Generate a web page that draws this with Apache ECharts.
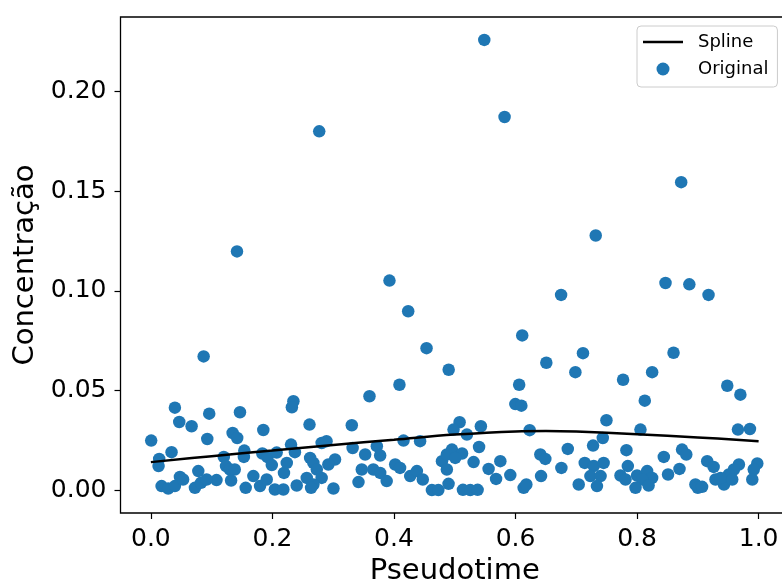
<!DOCTYPE html>
<html>
<head>
<meta charset="utf-8">
<script src="https://cdn.jsdelivr.net/npm/echarts@6/dist/echarts.min.js"></script>
<style>
  html, body { margin: 0; padding: 0; background: #fff; }
  #chart { width: 782px; height: 587px; }
</style>
</head>
<body>
<div id="chart"></div>
<script>
// Observed concentration per cell along pseudotime
const pseudotime = [
  0.277, 0.1417, 0.3926, 0.4234, 0.4536, 0.0868, 0.490, 0.409, 0.5486, 0.582,
  0.8726, 0.732, 0.675, 0.8468, 0.886, 0.9176, 0.611, 0.711, 0.6507, 0.860,
  0.6985, 0.8248, 0.777, 0.606, 0.9484, 0.970, 0.8127, 0.3597, 0.2345, 0.232,
  0.5997, 0.6096,
  0.0395, 0.096, 0.1466, 0.0467, 0.067, 0.185, 0.1345, 0.142, 0.0005, 0.0928,
  0.034, 0.0137, 0.0126, 0.120, 0.1537, 0.153, 0.1834, 0.192, 0.207, 0.199,
  0.1236, 0.130, 0.138, 0.078, 0.0478, 0.108, 0.132, 0.1686, 0.0176, 0.0285,
  0.0395, 0.053, 0.0725, 0.0824, 0.0917, 0.156, 0.1796, 0.1906, 0.204, 0.218,
  0.219, 0.2236,
  0.261, 0.3306, 0.2306, 0.237, 0.281, 0.289, 0.332, 0.3718, 0.4157, 0.443,
  0.262, 0.2674, 0.303, 0.292, 0.3526, 0.3773, 0.2565, 0.273, 0.281, 0.2674,
  0.240, 0.2636, 0.3004, 0.347, 0.3416, 0.366, 0.3773, 0.388, 0.402, 0.410,
  0.4267, 0.4377, 0.4474, 0.4624, 0.473, 0.479, 0.487,
  0.508, 0.498, 0.520, 0.543, 0.6233, 0.7496, 0.7436, 0.7276, 0.686, 0.540,
  0.4954, 0.487, 0.512, 0.5008, 0.6408, 0.649, 0.531, 0.575, 0.5557, 0.568,
  0.5914, 0.642, 0.6755, 0.7139, 0.7287, 0.745, 0.7232, 0.740, 0.734, 0.704,
  0.4898, 0.5135, 0.5255, 0.5376, 0.6134, 0.6178,
  0.966, 0.9857, 0.8056, 0.7825, 0.844, 0.874, 0.881, 0.9154, 0.926, 0.9978,
  0.992, 0.9896, 0.9676, 0.9594, 0.951, 0.7848, 0.7727, 0.781, 0.800, 0.8166,
  0.8248, 0.8084, 0.819, 0.7974, 0.851, 0.8698, 0.896, 0.900, 0.907, 0.929,
  0.943, 0.9374, 0.9566
];
const concentration = [
  0.180, 0.1198, 0.1052, 0.0898, 0.0713, 0.0672, 0.0605, 0.053, 0.2258, 0.1872,
  0.1545, 0.1278, 0.098, 0.104, 0.1033, 0.098, 0.0777, 0.0688, 0.064, 0.069,
  0.0593, 0.0593, 0.0555, 0.053, 0.0525, 0.048, 0.045, 0.0472, 0.0447, 0.0417,
  0.0433, 0.0425,
  0.0415, 0.0385, 0.0392, 0.0343, 0.0322, 0.0303, 0.0288, 0.0263, 0.025, 0.0258,
  0.0192, 0.0158, 0.0122, 0.0168, 0.020, 0.0168, 0.0185, 0.0167, 0.019, 0.0127,
  0.0122, 0.0105, 0.0105, 0.0097, 0.0068, 0.0052, 0.005, 0.0072, 0.0022, 0.001,
  0.0022, 0.0055, 0.0013, 0.0038, 0.0055, 0.0013, 0.0022, 0.0055, 0.0005, 0.0005,
  0.0088, 0.0138,
  0.033, 0.0327, 0.023, 0.0192, 0.0238, 0.0247, 0.0213, 0.0222, 0.025, 0.0247,
  0.0163, 0.0138, 0.0155, 0.013, 0.018, 0.0175, 0.0063, 0.0105, 0.0063, 0.003,
  0.0025, 0.0013, 0.001, 0.0105, 0.0042, 0.0105, 0.0088, 0.0047, 0.013, 0.0113,
  0.0072, 0.0097, 0.0055, 0.0002, 0.0002, 0.0147, 0.0105,
  0.0342, 0.0305, 0.028, 0.0322, 0.0302, 0.0352, 0.0263, 0.0225, 0.0208, 0.0218,
  0.0205, 0.018, 0.0185, 0.0163, 0.018, 0.0158, 0.0142, 0.0147, 0.0108, 0.0058,
  0.0077, 0.0072, 0.0113, 0.0138, 0.0122, 0.0138, 0.0072, 0.0072, 0.0022, 0.003,
  0.0033, 0.0003, 0.0002, 0.0003, 0.0013, 0.003,
  0.0305, 0.0308, 0.0305, 0.0202, 0.0168, 0.0205, 0.018, 0.0147, 0.0118, 0.0135,
  0.0105, 0.0055, 0.013, 0.0105, 0.008, 0.0122, 0.0075, 0.0055, 0.0075, 0.0097,
  0.0063, 0.0055, 0.0025, 0.0013, 0.008, 0.0108, 0.003, 0.0013, 0.0018, 0.0055,
  0.003, 0.0063, 0.0055
];

// Fitted spline through the observations
const splineX = [0.0, 0.1, 0.2, 0.3, 0.4, 0.5, 0.6, 0.65, 0.7, 0.8, 0.9, 1.0];
const splineY = [0.0142, 0.0172, 0.0200, 0.0228, 0.0254, 0.0280, 0.0296, 0.0298, 0.0295, 0.0282, 0.0266, 0.0247];

const xTicks = [0.0, 0.2, 0.4, 0.6, 0.8, 1.0];
const yTicks = [0.00, 0.05, 0.10, 0.15, 0.20];

const FONT = 'DejaVu Sans';
const points = pseudotime.map((x, i) => [x, concentration[i]]);
const curve = splineX.map((x, i) => [x, splineY[i]]);

const chart = echarts.init(document.getElementById('chart'), null, { renderer: 'canvas' });
chart.setOption({
  animation: false,
  backgroundColor: '#ffffff',
  grid: {
    left: 120.5, top: 17, right: -7, bottom: 74,
    containLabel: false, outerBoundsMode: 'none',
    show: true, borderColor: '#000', borderWidth: 1.3, backgroundColor: 'transparent'
  },
  legend: {
    left: 637, top: 26,
    orient: 'vertical',
    itemWidth: 40, itemHeight: 13, itemGap: 9,
    padding: [7, 9, 9, 6],
    borderColor: '#cccccc', borderWidth: 1, borderRadius: 4,
    backgroundColor: 'rgba(255,255,255,0.8)',
    textStyle: { fontFamily: FONT, fontSize: 18, color: '#000', padding: [0, 0, 0, 10] },
    data: [
      { name: 'Spline', icon: 'path://M0,0 L40,0 L40,2.5 L0,2.5 Z', itemStyle: { color: '#000' } },
      { name: 'Original', icon: 'circle' }
    ]
  },
  xAxis: {
    type: 'value', min: -0.05, max: 1.05,
    name: 'Pseudotime', nameLocation: 'middle', nameGap: 44,
    nameTextStyle: { fontFamily: FONT, fontSize: 29, color: '#000' },
    axisLine: { show: false, onZero: false },
    axisTick: { show: true, length: 6, inside: false, customValues: xTicks, lineStyle: { color: '#000', width: 1.2 } },
    axisLabel: { customValues: xTicks, margin: 14, fontFamily: FONT, fontSize: 25, color: '#000',
      formatter: v => v.toFixed(1) },
    splitLine: { show: false }
  },
  yAxis: {
    type: 'value', min: -0.0113, max: 0.2373,
    name: 'Concentração', nameLocation: 'middle', nameGap: 81, nameRotate: 90,
    nameTextStyle: { fontFamily: FONT, fontSize: 29, color: '#000' },
    axisLine: { show: false, onZero: false },
    axisTick: { show: true, length: 6, inside: false, customValues: yTicks, lineStyle: { color: '#000', width: 1.2 } },
    axisLabel: { customValues: yTicks, margin: 14, fontFamily: FONT, fontSize: 25, color: '#000',
      formatter: v => v.toFixed(2) },
    splitLine: { show: false }
  },
  series: [
    {
      name: 'Original', type: 'scatter', data: points,
      symbol: 'circle', symbolSize: 12.5,
      itemStyle: { color: '#1f77b4', opacity: 1 },
      z: 2
    },
    {
      name: 'Spline', type: 'line', data: curve,
      smooth: 0.4, showSymbol: false, symbol: 'none',
      lineStyle: { color: '#000', width: 2.5 },
      itemStyle: { color: '#000' },
      z: 3
    }
  ]
});
</script>
</body>
</html>
